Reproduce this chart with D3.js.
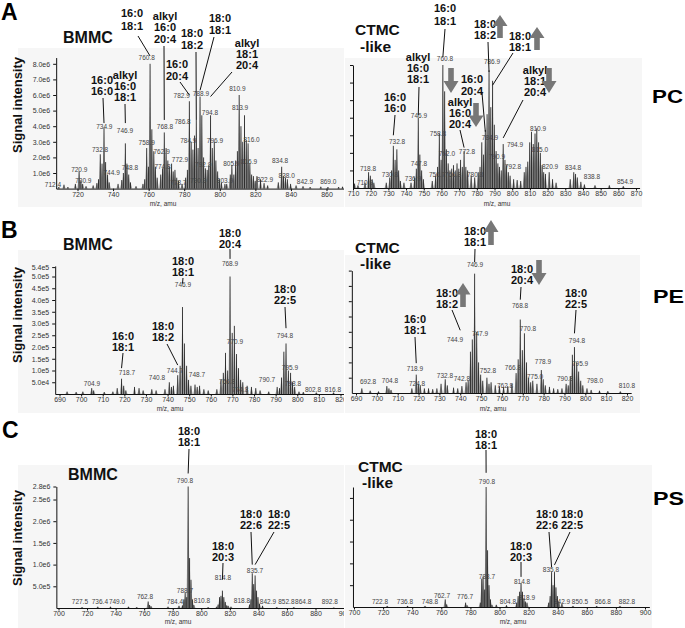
<!DOCTYPE html>
<html><head><meta charset="utf-8">
<script src="https://cdn.jsdelivr.net/npm/d3@7"></script>
<style>
body{margin:0;background:#fff}
svg{display:block}
text{font-family:"Liberation Sans",Arial,Helvetica,sans-serif}
</style></head>
<body><svg id="chart" width="685" height="628"></svg>
<script>
// ---------------- DATA ----------------
// Peaks: [m/z, intensity]  (PC BMMC ×1e6, PE BMMC ×1e5, PS BMMC ×1e6; CTMC panels in relative units)
const pcBmmcPeaks = [[709.5,0.1],[712.4,0.25],[714.6,0.1],[718.8,0.3],[720.9,1.1],[721.9,0.5],[722.9,0.3],[724.8,0.15],[728.8,0.2],[730.9,0.35],[731.8,0.6],[732.8,2.2],[733.8,1.6],[734.9,3.9],[735.8,1.7],[736.9,0.9],[737.8,0.4],[742.8,0.3],[744.9,0.55],[745.8,1.0],[746.9,2.9],[747.8,1.6],[748.8,0.9],[749.8,0.4],[752.9,0.15],[756.8,0.3],[757.8,0.6],[758.9,2.6],[759.9,1.4],[760.8,8.0],[761.8,3.8],[762.9,2.4],[763.8,1.4],[764.8,0.7],[766.8,0.9],[767.8,1.3],[768.8,3.6],[769.8,2.6],[770.8,1.8],[771.8,1.4],[772.9,1.6],[773.8,1.1],[774.8,1.2],[775.8,0.7],[776.8,0.5],[778.8,0.3],[780.8,0.7],[781.8,1.2],[782.9,5.6],[783.9,3.0],[784.9,2.5],[785.8,3.4],[786.8,4.4],[787.8,2.6],[788.9,5.9],[789.9,4.7],[790.9,2.0],[791.9,1.3],[792.9,1.2],[793.8,1.5],[794.8,4.7],[795.8,2.6],[796.9,3.0],[797.8,1.8],[798.8,1.1],[799.8,0.6],[800.9,0.4],[802.9,0.3],[803.9,0.3],[805.9,0.9],[806.8,1.5],[807.9,0.9],[808.9,1.8],[809.9,2.4],[810.9,6.0],[811.9,4.0],[812.9,3.0],[813.9,4.7],[814.9,3.1],[815.9,2.9],[816.9,1.6],[817.9,0.9],[818.9,0.8],[819.9,0.5],[820.9,0.8],[822.9,0.6],[824.9,0.35],[826.9,0.2],[832.9,0.4],[834.8,1.4],[835.8,0.8],[836.9,0.7],[838.0,0.6],[839.8,0.3],[842.9,0.2],[846.8,0.15],[850.8,0.1],[856.8,0.12],[860.8,0.1],[866.8,0.1],[869.0,0.12]];
const pcCtmcPeaks = [[710.9,0.25],[712.8,0.15],[716.8,0.3],[718.8,0.9],[719.8,0.7],[720.8,0.5],[721.8,0.3],[728.8,0.3],[730.8,0.6],[731.8,1.0],[732.8,2.4],[733.8,1.6],[734.8,2.2],[735.8,1.0],[736.8,0.4],[738.8,0.3],[742.8,0.3],[744.8,0.6],[745.8,1.1],[746.9,4.0],[747.8,1.9],[748.8,1.0],[749.8,0.5],[754.8,0.4],[756.7,0.7],[757.8,1.2],[758.8,3.1],[759.8,1.6],[760.8,7.0],[761.8,5.5],[762.8,2.2],[763.8,1.4],[764.8,1.0],[765.8,1.1],[766.8,1.3],[767.8,1.0],[768.8,1.4],[769.8,1.1],[770.8,1.6],[771.8,1.2],[772.8,2.1],[773.8,1.2],[774.8,1.0],[776.8,0.7],[778.8,0.6],[780.8,0.9],[781.8,1.2],[782.8,2.6],[783.8,1.9],[784.8,3.3],[785.8,4.2],[786.9,6.7],[787.9,4.6],[788.9,6.1],[789.9,3.6],[790.9,2.1],[791.9,1.4],[792.8,1.2],[793.8,1.0],[794.9,2.5],[795.9,1.6],[796.8,1.3],[797.8,0.9],[798.8,0.7],[800.8,0.5],[802.8,0.45],[804.8,0.4],[806.8,0.9],[807.8,1.2],[808.8,1.5],[809.9,2.6],[810.9,3.2],[811.9,2.5],[812.9,3.1],[813.9,3.4],[814.9,2.6],[815.9,2.0],[816.9,1.3],[817.8,0.9],[818.8,0.8],[820.9,0.9],[822.8,0.5],[824.8,0.3],[832.8,0.5],[834.8,0.9],[835.8,0.8],[836.8,0.6],[838.8,0.35],[840.8,0.2],[846.8,0.15],[854.9,0.15],[862.8,0.1]];
const peBmmcPeaks = [[693.5,0.1],[697.7,0.08],[700.8,0.1],[704.9,0.25],[705.8,0.15],[710.7,0.08],[714.7,0.1],[716.7,0.25],[718.7,0.65],[719.7,0.35],[720.7,0.15],[724.7,0.3],[726.8,0.25],[728.7,0.15],[732.7,0.2],[734.7,0.15],[738.8,0.2],[740.8,0.5],[741.8,0.3],[742.7,0.35],[744.7,0.8],[745.8,1.2],[746.9,3.7],[747.8,2.15],[748.8,1.2],[749.7,0.6],[750.8,0.35],[752.7,0.4],[753.7,0.3],[754.8,0.35],[756.8,0.2],[758.8,0.15],[762.8,0.2],[764.7,0.6],[765.8,0.9],[766.8,1.75],[767.8,1.0],[768.9,5.0],[769.9,2.6],[770.9,2.9],[771.9,1.7],[772.8,1.1],[773.8,0.6],[774.8,0.5],[776.8,0.35],[778.8,0.3],[780.8,0.25],[782.8,0.15],[786.8,0.1],[790.7,0.3],[791.8,0.25],[792.7,0.7],[793.8,1.8],[794.8,2.15],[795.9,1.0],[796.9,0.9],[797.8,0.5],[798.8,0.3],[800.8,0.1],[802.8,0.08],[808.8,0.06],[816.8,0.06]];
const peCtmcPeaks = [[692.8,0.3],[696.8,0.15],[700.8,0.1],[704.8,0.45],[705.8,0.3],[706.8,0.2],[716.8,0.3],[718.9,1.2],[719.9,0.6],[720.8,0.5],[722.8,0.3],[724.8,0.3],[726.8,0.25],[728.8,0.3],[730.8,0.6],[732.8,0.9],[733.8,0.5],[736.8,0.35],[738.8,0.3],[740.8,0.45],[742.8,0.7],[743.8,0.8],[744.9,2.7],[745.8,3.5],[746.9,7.8],[747.9,4.0],[748.8,2.0],[749.8,1.2],[750.8,0.8],[752.8,1.0],[753.8,0.6],[754.8,0.7],[756.8,0.5],[758.8,0.45],[760.8,0.4],[762.8,0.45],[764.8,0.6],[766.8,1.3],[767.8,2.2],[768.8,4.8],[769.8,2.8],[770.8,3.9],[771.8,2.0],[772.8,1.0],[773.8,0.7],[774.8,0.8],[776.8,0.6],[778.9,1.5],[779.8,0.9],[780.8,0.5],[782.8,0.4],[784.8,0.3],[786.8,0.25],[788.8,0.3],[790.8,0.6],[791.8,0.5],[792.8,1.1],[793.8,2.5],[794.8,3.0],[795.9,2.0],[796.8,1.4],[797.8,0.8],[798.8,0.5],[800.8,0.3],[802.8,0.2],[806.8,0.15],[810.8,0.12],[816.8,0.1]];
const psBmmcPeaks = [[716.5,0.02],[727.5,0.03],[736.4,0.03],[749.0,0.03],[754.8,0.02],[762.8,0.15],[763.8,0.07],[764.8,0.04],[776.7,0.03],[784.4,0.05],[786.8,0.06],[787.8,0.2],[788.7,0.35],[789.8,0.25],[790.8,2.8],[791.8,1.15],[792.8,0.65],[793.8,0.2],[794.8,0.07],[804.8,0.02],[810.8,0.03],[811.8,0.08],[812.8,0.25],[813.8,0.28],[814.8,0.4],[815.8,0.25],[816.8,0.14],[817.8,0.06],[818.8,0.05],[820.8,0.03],[833.8,0.08],[834.8,0.2],[835.7,0.8],[836.7,0.55],[837.7,0.75],[838.7,0.4],[839.7,0.25],[840.8,0.1],[842.9,0.05],[852.9,0.02],[864.8,0.02],[892.8,0.01]];
const psCtmcPeaks = [[722.8,0.05],[736.8,0.05],[748.8,0.05],[762.7,0.35],[763.7,0.12],[776.7,0.2],[777.7,0.08],[786.8,0.2],[787.8,1.3],[788.7,1.4],[789.8,0.8],[790.8,5.5],[791.8,2.6],[792.8,1.0],[793.8,0.35],[794.8,0.1],[797.8,0.1],[804.8,0.08],[811.8,0.2],[812.8,0.5],[813.8,0.7],[814.8,1.1],[815.8,0.7],[816.8,0.4],[817.8,0.25],[818.9,0.2],[833.8,0.2],[834.8,0.5],[835.8,1.6],[836.8,1.0],[837.8,1.6],[838.8,0.9],[839.8,0.5],[840.8,0.25],[842.9,0.15],[850.5,0.05],[866.8,0.05],[882.8,0.05]];

// Peak m/z labels: [text, m/z position, intensity level]
const pcBmmcLabels = [["712.4",706.2,0.05],["720.9",721,1.0],["730.9",723.3,0.3],["732.8",732.7,2.3],["734.9",735.1,3.75],["744.9",739.2,0.8],["746.9",746.7,3.5],["748.8",749.5,1.1],["758.9",758.9,2.7],["760.8",758.9,8.2],["762.9",767.3,2.15],["768.8",769.2,3.75],["774.8",767.8,1.2],["772.9",777.6,1.65],["778.7",776.7,0.15],["782.9",778.6,5.75],["786.8",779.1,4.1],["788.9",789.4,5.9],["784.9",782.3,2.85],["792.9",790.7,1.3],["790.9",787.9,0.3],["794.8",794.5,4.65],["796.9",797.3,2.85],["803.9",802.9,0.3],["805.9",806.5,1.4],["810.9",809.9,6.2],["813.9",811.4,5.0],["816.0",817.9,2.9],["816.9",816.4,1.5],["822.9",825.4,0.35],["834.8",833.9,1.55],["838.0",837.6,0.6],["842.9",847.9,0.25],["869.0",861,0.25]];
const pcCtmcLabels = [["710.9",716.8,0.1],["718.8",718.5,0.9],["730.8",730.9,0.55],["732.8",734.9,2.45],["736.9",743.9,0.35],["746.9",747.3,3.9],["747.8",747.3,1.2],["756.7",757.5,0.55],["758.8",758,2.9],["760.8",762,7.15],["762.0",763.1,1.75],["766.8",766.5,0.55],["772.8",774.4,1.9],["780.8",779,0.55],["784.9",787.4,2.7],["786.9",788.6,7.0],["790.9",791.4,1.6],["792.8",800.5,1.0],["794.9",801.6,2.3],["810.9",814.6,3.2],["815.0",815.7,2.0],["820.9",821.4,1.0],["834.8",834.4,0.95],["838.8",845.1,0.45],["854.9",863.8,0.15]];
const peBmmcLabels = [["704.9",705,0.3],["718.7",721.2,0.77],["740.8",735.1,0.55],["744.7",743.4,0.85],["746.9",747.1,4.5],["748.7",753.6,0.68],["768.9",768.9,5.4],["770.9",771.2,2.1],["766.8",767.5,0.38],["774.8",773.6,0.05],["790.7",786,0.47],["794.8",794.3,2.35],["795.9",796.6,1.0],["798.8",798,0.3],["802.8",807.3,0.05],["816.8",816.5,0.05]];
const peCtmcLabels = [["692.8",695.8,0.5],["704.8",706.3,0.6],["718.9",718.3,1.35],["724.8",719.3,0.4],["732.8",732.7,0.9],["742.8",740.8,0.7],["744.9",737.5,3.3],["746.9",747.1,8.15],["747.9",749.5,3.65],["752.8",753.3,1.25],["762.8",761.5,0.25],["766.8",765.3,1.45],["768.8",768.7,5.5],["770.8",772.5,4.0],["775.0",775.9,0.85],["778.9",779.7,1.85],["790.8",790.3,0.7],["794.8",796,3.2],["795.9",797.5,1.7],["798.0",804.6,0.6],["810.8",820,0.25]];
const psBmmcLabels = [["727.5",715,0.07],["736.4",729,0.07],["749.0",741,0.07],["762.8",760.6,0.18],["784.4",781.6,0.07],["788.7",788.6,0.32],["790.8",788.6,2.86],["810.8",800.5,0.09],["814.8",815.2,0.62],["818.8",828.5,0.09],["835.7",837.6,0.78],["842.9",846.7,0.07],["852.8",859.6,0.07],["864.8",871.4,0.07],["892.8",890,0.07]];
const psCtmcLabels = [["722.8",717.9,0.1],["736.8",735,0.1],["748.8",752.2,0.1],["762.7",760.5,0.37],["776.7",776.3,0.32],["788.7",791.4,1.24],["790.8",791.4,5.6],["804.8",805.8,0.1],["814.8",815.5,1.0],["818.9",818.9,0.28],["835.8",835.4,1.56],["842.9",843,0.1],["850.5",855.3,0.1],["866.8",871,0.1],["882.8",887.6,0.1]];

// Lipid species annotations: [lines, target m/z, target level]
const pcBmmcSpecies = [[["16:0","16:0"],734.9,4.2],[["alkyl","16:0","18:1"],746.9,4.2],[["16:0","18:1"],760.8,8.5],[["alkyl","16:0","20:4"],768.8,4.4],[["18:0","18:2"],786.8,4.4],[["16:0","20:4"],782.9,6.0],[["18:0","18:1"],788.9,6.3],[["alkyl","18:1","20:4"],794.8,5.9]];
const pcCtmcSpecies = [[["16:0","18:1"],760.8,7.45],[["18:0","18:2"],786.9,6.6],[["18:0","18:1"],788.9,5.85],[["alkyl","16:0","18:1"],746.9,4.15],[["16:0","16:0"],732.8,3.0],[["16:0","20:4"],784.8,3.2],[["alkyl","16:0","20:4"],772.8,2.3],[["alkyl","18:1","20:4"],794.9,2.85]];
const peBmmcSpecies = [[["16:0","18:1"],718.7,1.1],[["18:0","18:2"],744.7,1.23],[["18:0","18:1"],746.9,4.7],[["18:0","20:4"],768.9,5.75],[["18:0","22:5"],794.8,2.8]];
const peCtmcSpecies = [[["18:0","18:1"],746.9,8.55],[["18:0","20:4"],768.8,6.1],[["18:0","18:2"],740,4.1],[["16:0","18:1"],718.9,1.95],[["18:0","22:5"],794.8,3.9]];
const psBmmcSpecies = [[["18:0","18:1"],790.8,3.1],[["18:0","20:3"],814.8,0.65],[["18:0","22:6"],835.7,1.0],[["18:0","22:5"],837.7,1.0]];
const psCtmcSpecies = [[["18:0","18:1"],790.8,6.15],[["18:0","20:3"],814.8,1.38],[["18:0","22:6"],835.8,1.83],[["18:0","22:5"],837.8,1.93]];

// Change arrows (CTMC vs BMMC): "up" / "down"
const pcCtmcChanges = ["down","up","up","down","down"];
const peCtmcChanges = ["up","down","up"];

// Axis ticks
const pcBmmcXTicks = [720,740,760,780,800,820,840,860];
const pcCtmcXTicks = [710,720,730,740,750,760,770,780,790,800,810,820,830,840,850,860,870];
const peXTicks = [690,700,710,720,730,740,750,760,770,780,790,800,810,820];
const psXTicks = [700,720,740,760,780,800,820,840,860,880,900];
const pcYTicks = [1,2,3,4,5,6,7,8];
const pcYTickLabels = ["1.0e6","2.0e6","3.0e6","4.0e6","5.0e6","6.0e6","7.0e6","8.0e6"];
const peYTicks = [0.5,1.0,1.5,2.0,2.5,3.0,3.5,4.0,4.5,5.0,5.4];
const peYTickLabels = ["5.0e4","1.0e5","1.5e5","2.0e5","2.5e5","3.0e5","3.5e5","4.0e5","4.5e5","5.0e5","5.4e5"];
const psYTicks = [0.5,1.0,1.5,2.0,2.5,2.8];
const psYTickLabels = ["5.0e5","1.0e6","1.5e6","2.0e6","2.5e6","2.8e6"];

const panelLetters = ["A","B","C"];
const lipidClasses = ["PC","PE","PS"];
const cellTypes = ["BMMC",["CTMC","-like"]];
const yTitle = "Signal intensity";
const xTitle = "m/z, amu";

// ---------------- LAYOUT ----------------
const svg = d3.select("#chart");
const defs = svg.append("defs");
defs.append("clipPath").attr("id","leftClip").append("rect").attr("x",0).attr("y",0).attr("width",344).attr("height",628);

function arrowPath(cx, y0, y1, dir){
  const hh = (y1-y0)*0.48, hw = 7.5, sw = 2.8;
  if(dir==="up"){
    return `M${cx},${y0}L${cx+hw},${y0+hh}L${cx+sw},${y0+hh}L${cx+sw},${y1}L${cx-sw},${y1}L${cx-sw},${y0+hh}L${cx-hw},${y0+hh}Z`;
  }
  return `M${cx},${y1}L${cx+hw},${y1-hh}L${cx+sw},${y1-hh}L${cx+sw},${y0}L${cx-sw},${y0}L${cx-sw},${y1-hh}L${cx-hw},${y1-hh}Z`;
}

function drawPanel(o){
  const g = svg.append("g");
  if(o.left) g.attr("clip-path","url(#leftClip)");
  g.append("rect").attr("x",o.bg[0]).attr("y",o.bg[1]).attr("width",o.bg[2]).attr("height",o.bg[3]).attr("fill","#f6f6f6");
  const pos = d => o.xa[1] + (d - o.xa[0]) * o.xa[2];
  const x = d3.scaleLinear().domain(o.xDom).range(o.xDom.map(pos));
  const y = d3.scaleLinear().domain(o.yDom).range(o.yRange);
  const hw = 1.7;
  // peaks
  g.append("g").selectAll("path").data(o.peaks).join("path")
    .attr("d", d => `M${x(d[0])-hw},${y(0)}L${x(d[0])},${y(d[1])}L${x(d[0])+hw},${y(0)}Z`)
    .attr("fill","#9c9c9c");
  g.append("g").selectAll("line").data(o.peaks).join("line")
    .attr("x1", d=>x(d[0])).attr("x2", d=>x(d[0]))
    .attr("y1", y(0)).attr("y2", d=>y(d[1]))
    .attr("stroke","#111").attr("stroke-width",0.8);
  // x axis
  const xa = g.append("g").attr("transform",`translate(0,${y(0)})`)
    .call(d3.axisBottom(x).tickValues(o.xTicks).tickSize(2.5).tickSizeOuter(0).tickPadding(1).tickFormat(d3.format("d")));
  xa.selectAll("text").attr("font-size",7).attr("fill","#333").style("font-family",'"Liberation Sans",Arial,sans-serif');
  xa.selectAll("path,line").attr("stroke","#111");
  // y axis
  const ya = g.append("g").attr("transform",`translate(${x(o.xDom[0])},0)`)
    .call(d3.axisLeft(y).tickValues(o.yTicks).tickSize(3).tickSizeOuter(0).tickPadding(3)
      .tickFormat((d,i)=> o.yLabels ? o.yLabels[i] : ""));
  ya.selectAll("text").attr("font-size",7).attr("fill","#333").style("font-family",'"Liberation Sans",Arial,sans-serif');
  ya.selectAll("path,line").attr("stroke","#111");
  // axis title
  g.append("text").attr("x",o.xt[0]).attr("y",o.xt[1]).attr("text-anchor","middle")
    .attr("font-size",6.5).attr("fill","#333").text(xTitle);
  // peak labels
  g.append("g").selectAll("text").data(o.labels).join("text")
    .attr("x", d=>x(d[1])).attr("y", d=>y(d[2]) - 1)
    .attr("text-anchor","middle").attr("font-size",6.5).attr("fill","#444").text(d=>d[0]);
  // species annotations
  o.species.forEach((s,i)=>{
    const L = o.spLayout[i];
    const t = g.append("text").attr("text-anchor","middle").attr("font-size",11)
      .attr("font-weight","bold").attr("fill","#111");
    s[0].forEach((ln,j)=> t.append("tspan").attr("x",L[0]).attr("y",L[1]+j*L[4]).text(ln));
    g.append("line").attr("x1",L[2]).attr("y1",L[3]).attr("x2",x(s[1])).attr("y2",y(s[2]))
      .attr("stroke","#111").attr("stroke-width",1);
  });
  // change arrows
  if(o.changes){
    o.changes.forEach((c,i)=>{
      const A = o.arrowLayout[i];
      g.append("path").attr("d",arrowPath(A[0],A[1],A[2],c)).attr("fill","#777");
    });
  }
  // cell type title
  const ct = o.cell;
  if(Array.isArray(ct)){
    ct.forEach((t,j)=> g.append("text").attr("x",o.cellPos[j][0]).attr("y",o.cellPos[j][1])
      .attr("font-size",15.5).attr("font-weight","bold").attr("fill","#111").text(t));
  } else {
    g.append("text").attr("x",o.cellPos[0][0]).attr("y",o.cellPos[0][1])
      .attr("font-size",16).attr("font-weight","bold").attr("fill","#111").text(ct);
  }
  if(o.yTitle){
    g.append("text").attr("transform",`translate(${o.yTitle[0]},${o.yTitle[1]}) rotate(-90)`)
      .attr("text-anchor","middle").attr("font-size",13).attr("font-weight","bold").attr("fill","#111").text(yTitle);
  }
}

// Row A: PC
drawPanel({left:true, bg:[18,48,327,159], peaks:pcBmmcPeaks, labels:pcBmmcLabels, species:pcBmmcSpecies,
  spLayout:[[102,84,103,98,11],[125,79,125,104,11],[132,17,138,36,12.5],[165,19.5,164,46,11.5],[192,37,196,52,11.5],[177,68,180,82,11.5],[220,22,214,37,11.5],[247,47,232,72,11]],
  xa:[720,77.5,1.7786], xDom:[708,871], xTicks:pcBmmcXTicks,
  yDom:[0,8.4], yRange:[188.6,188.6-8.4*15.6], yTicks:pcYTicks, yLabels:pcYTickLabels,
  xt:[163,205.5], cell:cellTypes[0], cellPos:[[63,43]], yTitle:[22,105]});
drawPanel({left:false, bg:[345,58,297,149], peaks:pcCtmcPeaks, labels:pcCtmcLabels, species:pcCtmcSpecies,
  spLayout:[[445,12,445,29,12.5],[485,28,488,42,11],[520,40,513,53,11],[418,61,419,87,11],[395,101,395,115,11],[472,83,482,93,11.5],[460,106,460,130,11],[535,74,523,100,11]],
  changes:pcCtmcChanges, arrowLayout:[[451,68,93],[500,15,38],[537,27,50],[476,103,127],[549,68,93]],
  xa:[710,353,1.769], xDom:[710,872], xTicks:pcCtmcXTicks,
  yDom:[0,7], yRange:[188,65], yTicks:[1,2,3,4,5,6,7], yLabels:null,
  xt:[497,205.5], cell:cellTypes[1], cellPos:[[355,35],[360,52]]});

// Row B: PE
drawPanel({left:true, bg:[18,250,327,163], peaks:peBmmcPeaks, labels:peBmmcLabels, species:peBmmcSpecies,
  spLayout:[[123,340,123,353,11],[163,330,167,344,11],[183,265,183,278,11],[230,237,230,249,11],[285,293,285,307,11]],
  xa:[690,59.5,2.1615], xDom:[688,822], xTicks:peXTicks,
  yDom:[0,5.45], yRange:[394,394-5.45*23.5], yTicks:peYTicks, yLabels:peYTickLabels,
  xt:[170,411], cell:cellTypes[0], cellPos:[[63,250]], yTitle:[22,315]});
drawPanel({left:false, bg:[345,255,295,158], peaks:peCtmcPeaks, labels:peCtmcLabels, species:peCtmcSpecies,
  spLayout:[[475,235,475,249,11],[522,273,521,287,11],[447,297,452,310,11],[415,323,415,337,11],[576,297,576,310,11]],
  changes:peCtmcChanges, arrowLayout:[[491,220,245],[539,260,285],[463,283,307]],
  xa:[690,356,2.0846], xDom:[688,822], xTicks:peXTicks,
  yDom:[0,8], yRange:[393,393-8*15.3], yTicks:[1,2,3,4,5,6,7,8], yLabels:null,
  xt:[493,411], cell:cellTypes[1], cellPos:[[355,253],[360,269]]});

// Row C: PS
drawPanel({left:true, bg:[18,465,327,163], peaks:psBmmcPeaks, labels:psBmmcLabels, species:psBmmcSpecies,
  spLayout:[[189,435,189,449,11],[223,550,223,563,11],[251,518,251,532,11],[279,518,274,532,11]],
  xa:[700,58.5,1.4278], xDom:[698.5,900], xTicks:psXTicks,
  yDom:[0,2.8], yRange:[608,486.5], yTicks:psYTicks, yLabels:psYTickLabels,
  xt:[178,624], cell:cellTypes[0], cellPos:[[68,480]], yTitle:[22,538]});
drawPanel({left:false, bg:[345,465,307,163], peaks:psCtmcPeaks, labels:psCtmcLabels, species:psCtmcSpecies,
  spLayout:[[486,438,486,450,11],[521,550,521,562,11],[547,518,549,532,11],[572,518,570,532,11]],
  xa:[700,354,1.455], xDom:[699.3,903], xTicks:psXTicks,
  yDom:[0,5.5], yRange:[607,487], yTicks:[1,2,3,4,5], yLabels:null,
  xt:[513,624], cell:cellTypes[1], cellPos:[[358,472],[362,488]]});

// Panel letters and row labels
const letterPos = [[1,20],[1,238],[2,438]];
panelLetters.forEach((l,i)=> svg.append("text").attr("x",letterPos[i][0]).attr("y",letterPos[i][1])
  .attr("font-size",23).attr("font-weight","bold").attr("fill","#000").text(l));
const classPos = [[652,103],[653,303],[653,505]];
lipidClasses.forEach((c,i)=> svg.append("text").attr("x",classPos[i][0]).attr("y",classPos[i][1])
  .attr("font-size",19).attr("font-weight","bold").attr("fill","#000")
  .attr("textLength",31).attr("lengthAdjust","spacingAndGlyphs").text(c));
</script></body></html>
